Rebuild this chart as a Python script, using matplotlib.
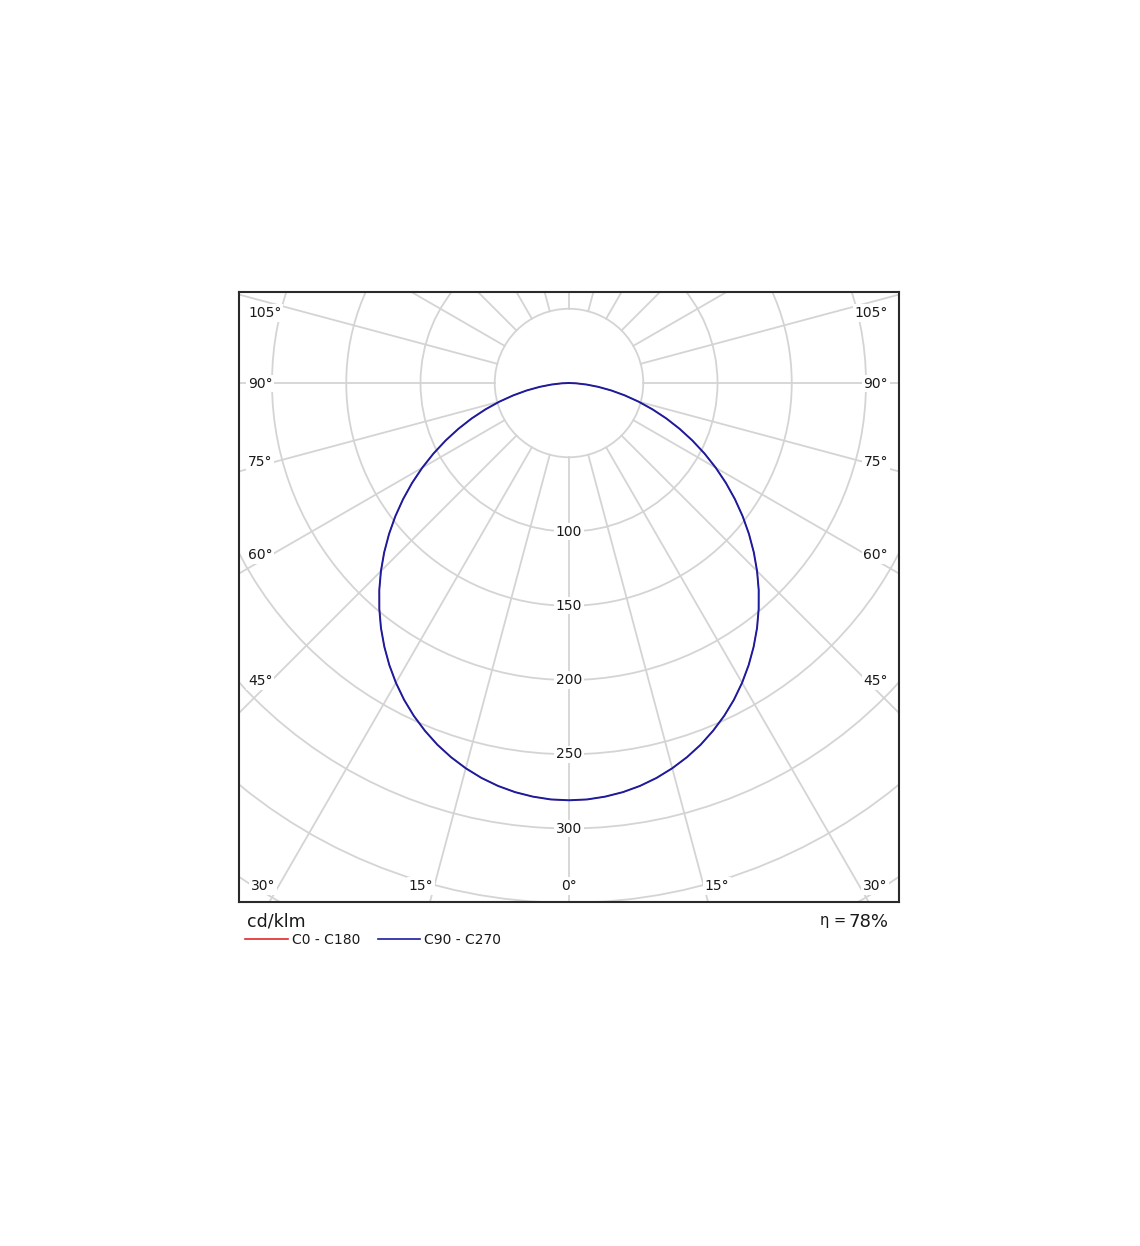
"""Polar luminous intensity diagram (cd/klm), C0-C180 and C90-C270 planes."""

import numpy as np
import matplotlib as mpl
import matplotlib.pyplot as plt
from matplotlib.patches import Circle

# --- data ---------------------------------------------------------------
GAMMA = [0, 2.5, 5, 7.5, 10, 12.5, 15, 17.5, 20, 22.5, 25, 27.5, 30, 32.5, 35, 37.5,
         40, 42.5, 45, 47.5, 50, 52.5, 55, 57.5, 60, 62.5, 65, 67.5, 70, 72.5, 75,
         77.5, 80, 82.5, 85, 87.5, 90]
C0_C180 = [281, 280.7, 279.6, 277.9, 275.5, 272.4, 268.6, 264.2, 259.2, 253.5, 247.3,
           240.5, 233.1, 225.2, 216.8, 208, 198.7, 189.1, 179.1, 168.8, 158.2, 147.4,
           136.4, 125.3, 114.1, 102.9, 91.7, 80.6, 69.7, 58.9, 48.5, 38.4, 28.9, 19.9,
           11.8, 4.8, 0]
C90_C270 = [281, 280.7, 279.6, 277.9, 275.5, 272.4, 268.6, 264.2, 259.2, 253.5, 247.3,
            240.5, 233.1, 225.2, 216.8, 208, 198.7, 189.1, 179.1, 168.8, 158.2, 147.4,
            136.4, 125.3, 114.1, 102.9, 91.7, 80.6, 69.7, 58.9, 48.5, 38.4, 28.9, 19.9,
            11.8, 4.8, 0]
RINGS = [50, 100, 150, 200, 250, 300, 350, 400, 450]
RING_LABELS = [100, 150, 200, 250, 300]
SPOKE_STEP = 15
ETA = 78

# --- look ---------------------------------------------------------------
W, H = 1140, 1246
GRID = "#d4d4d4"
FRAME = "#2a2a2a"
INK = "#1a1a1a"
RED = "#e02a2a"
BLUE = "#1c1c9e"

# pixel geometry of the frame and the pole
FX0, FX1, FY0, FY1 = 239, 899, 292, 902
CX, CY = 569, 383
PX_PER_UNIT = 1.485

mpl.rcParams.update({
    "font.family": ["DejaVu Sans"],
    "text.color": INK,
})


def fpos(x, y):
    """pixel position (from top-left) -> figure fraction"""
    return x / W, 1 - y / H


fig = plt.figure(figsize=(W / 100, H / 100), dpi=100)
ax = fig.add_axes([FX0 / W, 1 - FY1 / H, (FX1 - FX0) / W, (FY1 - FY0) / H])
ax.set_xlim((FX0 - CX) / PX_PER_UNIT, (FX1 - CX) / PX_PER_UNIT)
ax.set_ylim(-(FY1 - CY) / PX_PER_UNIT, (CY - FY0) / PX_PER_UNIT)
ax.set_xticks([])
ax.set_yticks([])
for sp in ax.spines.values():
    sp.set_color(FRAME)
    sp.set_linewidth(1.5)
    sp.set_zorder(10)

# grid: rings and spokes (spokes start at the innermost ring)
for r in RINGS:
    ax.add_patch(Circle((0, 0), r, fill=False, edgecolor=GRID, linewidth=1.3, zorder=1))
r0, r1 = RINGS[0], RINGS[-1] + 100
for a in np.arange(0, 360, SPOKE_STEP):
    t = np.radians(a)
    ax.plot([r0 * np.sin(t), r1 * np.sin(t)], [-r0 * np.cos(t), -r1 * np.cos(t)],
            color=GRID, linewidth=1.3, zorder=1)


# curves: mirror each half-plane about nadir
def plane(values):
    g = np.radians(np.concatenate([-np.array(GAMMA[::-1]), np.array(GAMMA[1:])]))
    v = np.concatenate([np.array(values[::-1]), np.array(values[1:])])
    return v * np.sin(g), -v * np.cos(g)


x0, y0 = plane(C0_C180)
x90, y90 = plane(C90_C270)
ax.plot(x0, y0, color=RED, linewidth=0.8, zorder=5)
ax.plot(x90, y90, color=BLUE, linewidth=1.4, zorder=6)

# ring labels along nadir
box = dict(facecolor="white", edgecolor="none", pad=1.2)
for r in RING_LABELS:
    ax.text(0, -r, str(r), ha="center", va="center", fontsize=10, bbox=box, zorder=4)

# angle labels on the frame
side_labels = [("105°", 313), ("90°", 383.5), ("75°", 462), ("60°", 555), ("45°", 681)]
for txt, y in side_labels:
    fig.text(*fpos(248, y), txt, ha="left", va="center", fontsize=10, bbox=box, zorder=4)
    fig.text(*fpos(888, y), txt, ha="right", va="center", fontsize=10, bbox=box, zorder=4)
bottom_labels = [("30°", 263), ("15°", 421), ("0°", 569), ("15°", 717), ("30°", 875)]
for txt, x in bottom_labels:
    fig.text(*fpos(x, 886), txt, ha="center", va="center", fontsize=10, bbox=box, zorder=4)

# units, efficiency and legend below the frame
fig.text(*fpos(247, 922), "cd/klm", ha="left", va="center", fontsize=12.5)
fig.text(*fpos(888, 922), f"{ETA}%", ha="right", va="center", fontsize=13)
fig.text(*fpos(846, 920), "η =", ha="right", va="center", fontsize=10.5)

legend = [("C0 - C180", RED, 245, 288), ("C90 - C270", BLUE, 378, 420)]
for label, col, xa, xb in legend:
    lx0, ly = fpos(xa, 939)
    lx1, _ = fpos(xb, 939)
    fig.add_artist(plt.Line2D([lx0, lx1], [ly, ly], color=col, linewidth=1.2))
    fig.text(*fpos(xb + 4, 940), label, ha="left", va="center", fontsize=10)

fig.savefig("out.png", dpi=100, facecolor="white")
